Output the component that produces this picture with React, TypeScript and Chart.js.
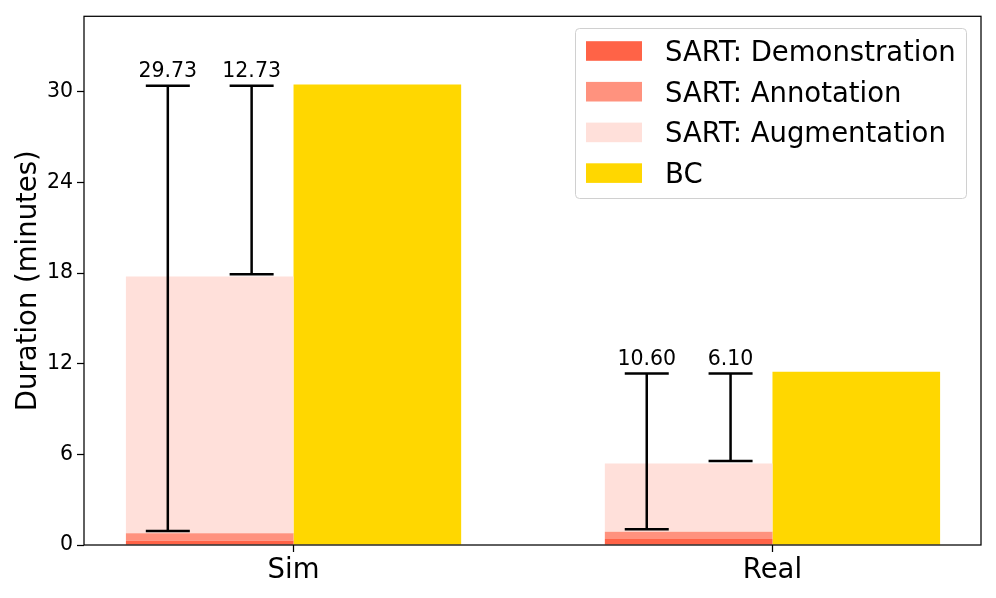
import React, { useEffect, useRef } from "react";
import { Chart, registerables } from "chart.js";

Chart.register(...registerables);

const categories = ["Sim", "Real"];
const categoryPositions = [0, 1];
const demonstration = [0.28, 0.4];
const annotation = [0.49, 0.48];
const augmentation = [17.01, 4.51];
const bc = [30.48, 11.47];
// error bars on the SART bar (two per category)
const errLowA = [0.92, 1.05];
const errHighA = [30.4, 11.36];
const errLabelA = ["29.73", "10.60"];
const errLowB = [17.93, 5.56];
const errHighB = [30.4, 11.36];
const errLabelB = ["12.73", "6.10"];
const yTickValues = [0, 6, 12, 18, 24, 30];

const seriesLabels = ["SART: Demonstration", "SART: Annotation", "SART: Augmentation", "BC"];
const seriesColors = ["#ff6347", "#ff927e", "#ffe0da", "#ffd700"];

const FONT = "'DejaVu Sans', sans-serif";

export default function App() {
  const ref = useRef<HTMLCanvasElement | null>(null);

  useEffect(() => {
    document.body.style.margin = "0";
    const canvas = ref.current!;
    const toPts = (arr: number[]) => arr.map((v, i) => ({ x: categoryPositions[i], y: v }));

    const errPlugin = {
      id: "errbars",
      afterDatasetsDraw(chart: any) {
        const { ctx, scales } = chart;
        const xs = scales.x;
        const ys = scales.y;
        const barW = 0.35;
        const groups = [
          { off: -barW / 2 - barW / 4, low: errLowA, high: errHighA, lab: errLabelA },
          { off: -barW / 2 + barW / 4, low: errLowB, high: errHighB, lab: errLabelB },
        ];
        ctx.save();
        ctx.strokeStyle = "#000";
        ctx.lineWidth = 2.5;
        ctx.fillStyle = "#000";
        ctx.font = `20.5px ${FONT}`;
        ctx.textAlign = "center";
        ctx.textBaseline = "alphabetic";
        categoryPositions.forEach((c, i) => {
          groups.forEach((g) => {
            const px = xs.getPixelForValue(c + g.off);
            const yl = ys.getPixelForValue(g.low[i]);
            const yh = ys.getPixelForValue(g.high[i]);
            ctx.beginPath();
            ctx.moveTo(px, yl);
            ctx.lineTo(px, yh);
            ctx.moveTo(px - 22, yl);
            ctx.lineTo(px + 22, yl);
            ctx.moveTo(px - 22, yh);
            ctx.lineTo(px + 22, yh);
            ctx.stroke();
            ctx.fillText(g.lab[i], px, yh - 8.5);
          });
        });
        // frame
        const a = chart.chartArea;
        ctx.lineWidth = 1.25;
        ctx.strokeStyle = "#000";
        ctx.strokeRect(a.left, a.top, a.right - a.left, a.bottom - a.top);

        // legend
        const bx = 575.5, by = 28.5, bw = 391, bh = 170, r = 4;
        ctx.beginPath();
        ctx.moveTo(bx + r, by);
        ctx.arcTo(bx + bw, by, bx + bw, by + bh, r);
        ctx.arcTo(bx + bw, by + bh, bx, by + bh, r);
        ctx.arcTo(bx, by + bh, bx, by, r);
        ctx.arcTo(bx, by, bx + bw, by, r);
        ctx.closePath();
        ctx.fillStyle = "rgba(255,255,255,0.8)";
        ctx.fill();
        ctx.strokeStyle = "#d0d0d0";
        ctx.lineWidth = 1;
        ctx.stroke();
        ctx.font = `27.5px ${FONT}`;
        ctx.textAlign = "left";
        seriesLabels.forEach((lab, k) => {
          const cy = 51 + k * 40.7;
          ctx.fillStyle = seriesColors[k];
          ctx.fillRect(586, cy - 9.8, 56, 19.6);
          ctx.fillStyle = "#000";
          ctx.fillText(lab, 665, cy + 9.9);
        });
        ctx.restore();
      },
    };

    const chart = new Chart(canvas, {
      type: "bar",
      data: {
        datasets: [
          { label: seriesLabels[0], data: toPts(demonstration), backgroundColor: seriesColors[0], stack: "sart" },
          { label: seriesLabels[1], data: toPts(annotation), backgroundColor: seriesColors[1], stack: "sart" },
          { label: seriesLabels[2], data: toPts(augmentation), backgroundColor: seriesColors[2], stack: "sart" },
          { label: seriesLabels[3], data: toPts(bc), backgroundColor: seriesColors[3], stack: "bc" },
        ] as any,
      },
      options: {
        animation: false,
        responsive: false,
        devicePixelRatio: 1,
        layout: { padding: { top: 14.5, right: 15, left: 0, bottom: 0 } },
        datasets: { bar: { categoryPercentage: 0.7, barPercentage: 1.0, borderWidth: 0 } },
        plugins: { legend: { display: false }, tooltip: { enabled: false } },
        scales: {
          x: {
            type: "linear",
            min: -0.4375,
            max: 1.4354,
            offset: false,
            grid: { display: true, offset: false, drawOnChartArea: false, drawTicks: true, tickLength: 7, tickWidth: 1.25, tickColor: "#000" },
            border: { display: false },
            afterBuildTicks: (s: any) => {
              s.ticks = categoryPositions.map((v) => ({ value: v }));
            },
            afterFit: (s: any) => {
              s.height = 53;
            },
            ticks: {
              color: "#000",
              font: { size: 27.5, family: FONT },
              padding: 2,
              maxRotation: 0,
              callback: (_v: any, i: number) => categories[i],
            },
          },
          y: {
            stacked: true,
            min: 0,
            max: 35,
            grid: { display: true, drawOnChartArea: false, drawTicks: true, tickLength: 7, tickWidth: 1.25, tickColor: "#000" },
            border: { display: false },
            afterBuildTicks: (s: any) => {
              s.ticks = yTickValues.map((v) => ({ value: v }));
            },
            afterFit: (s: any) => {
              s.width = 84;
            },
            ticks: { color: "#000", font: { size: 20.5, family: FONT }, padding: 4 },
            title: {
              display: true,
              text: "Duration (minutes)",
              color: "#000",
              font: { size: 27.5, family: FONT },
              padding: { top: 12, bottom: 0 },
            },
          },
        },
      },
      plugins: [errPlugin],
    } as any);
    return () => chart.destroy();
  }, []);

  return (
    <div style={{ width: 996, height: 598 }}>
      <canvas ref={ref} width={996} height={598} style={{ display: "block" }} />
    </div>
  );
}
